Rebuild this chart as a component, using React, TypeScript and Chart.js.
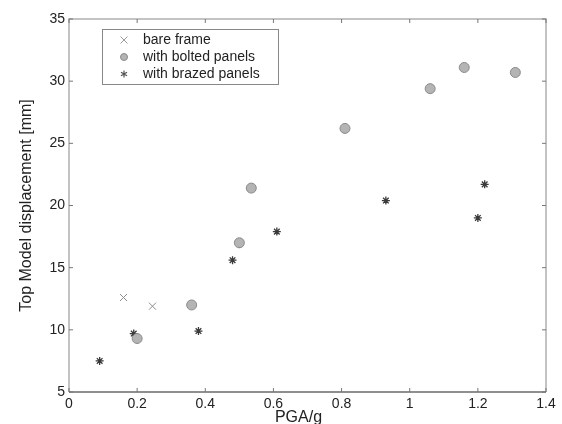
import { useEffect, useRef } from "react";
import { Chart, registerables } from "chart.js";

Chart.register(...registerables);

const bareFrameX = [0.16, 0.245];
const bareFrameY = [12.6, 11.9];
const boltedX = [0.2, 0.36, 0.5, 0.535, 0.81, 1.06, 1.16, 1.31];
const boltedY = [9.3, 12.0, 17.0, 21.4, 26.2, 29.4, 31.1, 30.7];
const brazedX = [0.09, 0.19, 0.38, 0.48, 0.5, 0.61, 0.93, 1.2, 1.22];
const brazedY = [7.5, 9.7, 9.9, 15.6, 16.9, 17.9, 20.4, 19.0, 21.7];
const xTicks = [0, 0.2, 0.4, 0.6, 0.8, 1, 1.2, 1.4];
const yTicks = [5, 10, 15, 20, 25, 30, 35];
const seriesNames = ["bare frame", "with bolted panels", "with brazed panels"];
const xTitle = "PGA/g";
const yTitle = "Top Model displacement [mm]";

const FONT = "'Liberation Sans', Arial, Helvetica, sans-serif";

function drawMarker(ctx: CanvasRenderingContext2D, kind: number, x: number, y: number) {
  ctx.save();
  if (kind === 0) {
    ctx.strokeStyle = "#9a9a9a";
    ctx.lineWidth = 1;
    const r = 3.5;
    ctx.beginPath();
    ctx.moveTo(x - r, y - r);
    ctx.lineTo(x + r, y + r);
    ctx.moveTo(x - r, y + r);
    ctx.lineTo(x + r, y - r);
    ctx.stroke();
  } else if (kind === 1) {
    ctx.fillStyle = "#b4b4b4";
    ctx.strokeStyle = "#8a8a8a";
    ctx.lineWidth = 1;
    ctx.beginPath();
    ctx.arc(x, y, 3.5, 0, Math.PI * 2);
    ctx.fill();
    ctx.stroke();
  } else {
    ctx.strokeStyle = "#555";
    ctx.lineWidth = 1.2;
    const r = 3.5;
    ctx.beginPath();
    for (let i = 0; i < 3; i++) {
      const a = (Math.PI / 3) * i + Math.PI / 2;
      ctx.moveTo(x - r * Math.cos(a), y - r * Math.sin(a));
      ctx.lineTo(x + r * Math.cos(a), y + r * Math.sin(a));
    }
    ctx.stroke();
  }
  ctx.restore();
}

const framePlugin = {
  id: "matlabFrame",
  afterDraw(chart: any) {
    const { ctx, chartArea } = chart;
    const { left, right, top, bottom } = chartArea;
    const xs = chart.scales.x;
    const ys = chart.scales.y;
    ctx.save();
    // frame
    ctx.lineWidth = 1.5;
    ctx.strokeStyle = "#b0b0b0";
    ctx.beginPath();
    ctx.moveTo(left, bottom);
    ctx.lineTo(left, top);
    ctx.lineTo(right, top);
    ctx.lineTo(right, bottom);
    ctx.stroke();
    ctx.strokeStyle = "#6a6a6a";
    ctx.beginPath();
    ctx.moveTo(left, bottom);
    ctx.lineTo(right, bottom);
    ctx.stroke();
    // inward ticks
    ctx.lineWidth = 1;
    ctx.strokeStyle = "#777";
    const tl = 4;
    ctx.beginPath();
    for (const v of xTicks) {
      const px = xs.getPixelForValue(v);
      ctx.moveTo(px, bottom);
      ctx.lineTo(px, bottom - tl);
      ctx.moveTo(px, top);
      ctx.lineTo(px, top + tl);
    }
    for (const v of yTicks) {
      const py = ys.getPixelForValue(v);
      ctx.moveTo(left, py);
      ctx.lineTo(left + tl, py);
      ctx.moveTo(right, py);
      ctx.lineTo(right - tl, py);
    }
    ctx.stroke();

    // legend box
    const bx = left + 33;
    const by = top + 10;
    const bw = 176;
    const bh = 55;
    ctx.fillStyle = "#fff";
    ctx.fillRect(bx, by, bw, bh);
    ctx.strokeStyle = "#888";
    ctx.lineWidth = 1;
    ctx.strokeRect(bx + 0.5, by + 0.5, bw, bh);
    ctx.font = `14px ${FONT}`;
    ctx.fillStyle = "#222";
    ctx.textBaseline = "middle";
    ctx.textAlign = "left";
    seriesNames.forEach((name, i) => {
      const ry = by + 11 + i * 17;
      drawMarker(ctx, i, bx + 22, ry);
      ctx.fillText(name, bx + 41, ry);
    });

    // axis titles
    ctx.fillStyle = "#222";
    ctx.font = `16px ${FONT}`;
    ctx.textAlign = "center";
    ctx.textBaseline = "alphabetic";
    ctx.fillText(xTitle, (left + right) / 2 - 9, 422);
    ctx.save();
    ctx.translate(27, (top + bottom) / 2);
    ctx.rotate(-Math.PI / 2);
    ctx.textBaseline = "middle";
    ctx.fillText(yTitle, 0, 0);
    ctx.restore();
    ctx.restore();
  },
};

export default function App() {
  const ref = useRef<HTMLCanvasElement>(null);
  useEffect(() => {
    document.body.style.margin = "0";
    const canvas = ref.current;
    if (!canvas) return;
    const toPts = (xs: number[], ys: number[]) => xs.map((x, i) => ({ x, y: ys[i] }));
    const chart = new Chart(canvas, {
      type: "scatter",
      data: {
        datasets: [
          {
            label: seriesNames[0],
            data: toPts(bareFrameX, bareFrameY),
            pointStyle: "crossRot",
            radius: 5,
            borderColor: "#8c8c8c",
            borderWidth: 1,
            backgroundColor: "#8c8c8c",
          },
          {
            label: seriesNames[1],
            data: toPts(boltedX, boltedY),
            pointStyle: "circle",
            radius: 5,
            backgroundColor: "#b4b4b4",
            borderColor: "#8a8a8a",
            borderWidth: 1,
          },
          {
            label: seriesNames[2],
            data: toPts(brazedX, brazedY),
            pointStyle: "star",
            radius: 4,
            borderColor: "#3a3a3a",
            borderWidth: 1.3,
            backgroundColor: "#3a3a3a",
          },
        ],
      },
      options: {
        animation: false,
        responsive: false,
        layout: { padding: { top: 19, right: 16, left: 0, bottom: 0 } },
        plugins: { legend: { display: false }, tooltip: { enabled: false } },
        scales: {
          x: {
            type: "linear",
            min: 0,
            max: 1.4,
            afterFit: (s: any) => {
              s.height = 32;
            },
            afterBuildTicks: (s: any) => {
              s.ticks = xTicks.map((v) => ({ value: v }));
            },
            ticks: {
              padding: 4,
              color: "#222",
              font: { family: FONT, size: 14 },
              callback: (v: any) => String(Math.round(Number(v) * 10) / 10),
              maxRotation: 0,
            },
            grid: { display: false, drawTicks: false },
            border: { display: false },
          },
          y: {
            type: "linear",
            min: 5,
            max: 35,
            afterFit: (s: any) => {
              s.width = 69;
            },
            afterBuildTicks: (s: any) => {
              s.ticks = yTicks.map((v) => ({ value: v }));
            },
            ticks: {
              padding: 4,
              color: "#222",
              font: { family: FONT, size: 14 },
              callback: (v: any) => String(v),
            },
            grid: { display: false, drawTicks: false },
            border: { display: false },
          },
        },
      },
      plugins: [framePlugin],
    });
    return () => chart.destroy();
  }, []);
  return <canvas ref={ref} width={562} height={424} style={{ display: "block" }} />;
}
